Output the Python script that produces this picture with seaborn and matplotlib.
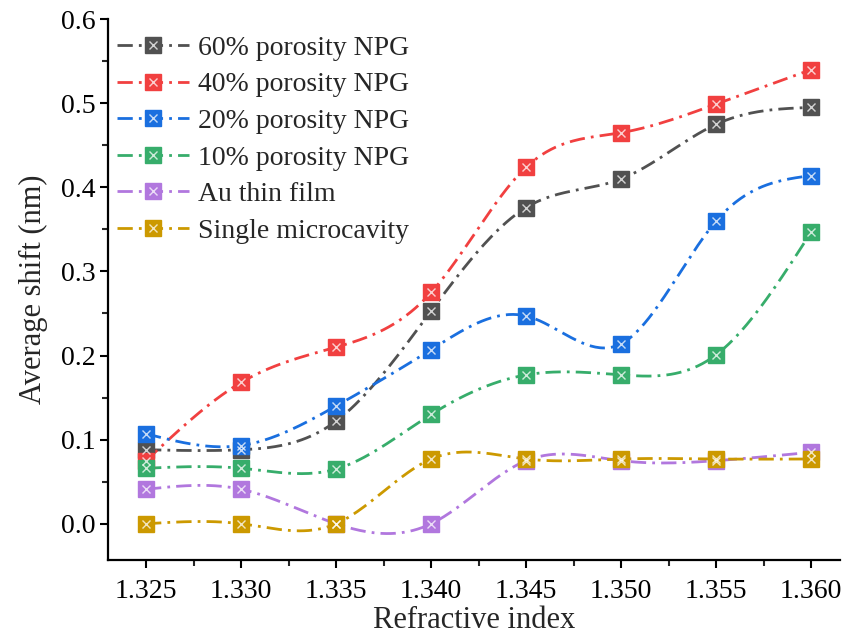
#!/usr/bin/env python

import matplotlib
matplotlib.use("Agg")
import matplotlib.pyplot as plt
import numpy as np
import pandas as pd
import seaborn as sns
from matplotlib.lines import Line2D
from matplotlib.ticker import MultipleLocator, FormatStrFormatter

# Data.
refractive_index = [1.325, 1.330, 1.335, 1.340, 1.345, 1.350, 1.355, 1.360]

npg_60 = [0.088, 0.088, 0.122, 0.253, 0.376, 0.410, 0.475, 0.495]
npg_40 = [0.075, 0.168, 0.210, 0.275, 0.424, 0.465, 0.499, 0.540]
npg_20 = [0.107, 0.093, 0.140, 0.207, 0.247, 0.214, 0.360, 0.414]
npg_10 = [0.066, 0.066, 0.065, 0.130, 0.177, 0.177, 0.201, 0.347]
au_film = [0.041, 0.041, 0.000, 0.000, 0.075, 0.075, 0.075, 0.085]
single_cavity = [0.000, 0.000, 0.000, 0.077, 0.077, 0.077, 0.077, 0.077]

labels = [
    "60% porosity NPG",
    "40% porosity NPG",
    "20% porosity NPG",
    "10% porosity NPG",
    "Au thin film",
    "Single microcavity",
]
series = [npg_60, npg_40, npg_20, npg_10, au_film, single_cavity]
colors = ["#515151", "#F14040", "#1A6FDF", "#37AD6B", "#B177DE", "#CC9900"]


def natural_spline(x, y, n=300):
    # Natural cubic spline through the points, used only to draw the
    # smooth connecting curve the way the original plotting tool did.
    x = np.asarray(x, float)
    y = np.asarray(y, float)
    k = len(x)
    h = np.diff(x)
    A = np.zeros((k, k))
    b = np.zeros(k)
    A[0, 0] = A[-1, -1] = 1.0
    for i in range(1, k - 1):
        A[i, i - 1] = h[i - 1]
        A[i, i] = 2 * (h[i - 1] + h[i])
        A[i, i + 1] = h[i]
        b[i] = 6 * ((y[i + 1] - y[i]) / h[i] - (y[i] - y[i - 1]) / h[i - 1])
    m = np.linalg.solve(A, b)
    xs = np.linspace(x[0], x[-1], n)
    idx = np.clip(np.searchsorted(x, xs) - 1, 0, k - 2)
    x0, x1 = x[idx], x[idx + 1]
    hh = x1 - x0
    t0, t1 = x1 - xs, xs - x0
    ys = (m[idx] * t0 ** 3 + m[idx + 1] * t1 ** 3) / (6 * hh) \
        + (y[idx] / hh - m[idx] * hh / 6) * t0 \
        + (y[idx + 1] / hh - m[idx + 1] * hh / 6) * t1
    return xs, ys


sns.set_style("ticks")
plt.rcParams["font.family"] = ["Liberation Serif", "DejaVu Serif"]

fig = plt.figure(figsize=(8.44, 6.37), dpi=100)
ax = fig.add_axes([0.128, 0.121, 0.867, 0.849])

dash = (5.5, 2.2, 1, 2.2)
handles = []
for label, vals, color in zip(labels, series, colors):
    xs, ys = natural_spline(refractive_index, vals)
    curve = pd.DataFrame({"x": xs, "y": ys})
    sns.lineplot(data=curve, x="x", y="y", ax=ax, color=color, lw=2.0,
                 dashes=False, legend=False, sort=False)
    ax.lines[-1].set_dashes(dash)
    pts = pd.DataFrame({"x": refractive_index, "y": vals})
    ax.plot(pts["x"], pts["y"], ls="none", marker="s", ms=12,
            mfc=color, mec=color, zorder=3)
    ax.plot(pts["x"], pts["y"], ls="none", marker="x", ms=6,
            mec="white", mew=1.0, alpha=0.75, zorder=4)
    h_line = Line2D([], [], color=color, lw=2.0, dashes=dash, marker="s",
                    ms=12, mfc=color, mec=color)
    h_x = Line2D([], [], ls="none", marker="x", ms=6, mec="white",
                 mew=1.0, alpha=0.75)
    handles.append((h_line, h_x))

ax.set_xlim(1.323, 1.3615)
ax.set_ylim(-0.043, 0.6)
ax.xaxis.set_major_locator(MultipleLocator(0.005))
ax.xaxis.set_minor_locator(MultipleLocator(0.0025))
ax.yaxis.set_major_locator(MultipleLocator(0.1))
ax.yaxis.set_minor_locator(MultipleLocator(0.05))
ax.xaxis.set_major_formatter(FormatStrFormatter("%.3f"))
ax.yaxis.set_major_formatter(FormatStrFormatter("%.1f"))

for side in ["top", "right"]:
    ax.spines[side].set_visible(False)
for side in ["left", "bottom"]:
    ax.spines[side].set_linewidth(1.6)
    ax.spines[side].set_color("black")
ax.tick_params(which="major", direction="out", length=6, width=1.5,
               labelsize=20, colors="black")
ax.tick_params(which="minor", direction="out", length=4, width=1.5)
ax.tick_params(axis="x", which="major", pad=8)
ax.tick_params(axis="y", which="major", pad=3)

ax.set_xlabel("Refractive index", fontsize=22, labelpad=1)
ax.set_ylabel("Average shift (nm)", fontsize=22, labelpad=9)

ax.legend(handles, labels, loc="upper left", frameon=False, fontsize=20,
          handlelength=2.6, labelspacing=0.40, handletextpad=0.3,
          borderaxespad=0.0, borderpad=0.2, bbox_to_anchor=(0.005, 0.98))

fig.savefig("out.png", dpi=100, facecolor="white")
